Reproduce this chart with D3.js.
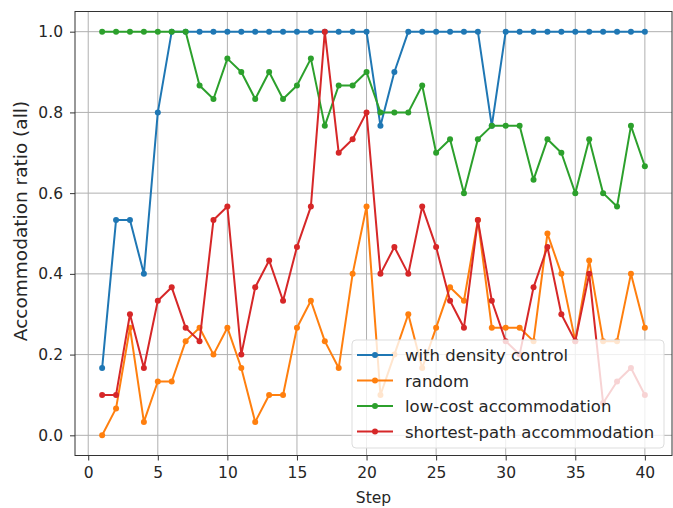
<!DOCTYPE html>
<html><head><meta charset="utf-8">
<script src="https://cdn.jsdelivr.net/npm/d3@7"></script>
<style>body{margin:0;background:#fff}svg{display:block}text{font-family:"DejaVu Sans",sans-serif}</style>
</head><body><svg id="c" width="673" height="508"></svg>
<script>
const steps = d3.range(1, 41);
const seriesNames = ["with density control", "random", "low-cost accommodation", "shortest-path accommodation"];
const colors = ["#1f77b4", "#ff7f0e", "#2ca02c", "#d62728"];
const densityControl = [0.1667,0.5333,0.5333,0.4,0.8,1,1,1,1,1,1,1,1,1,1,1,1,1,1,1,0.7667,0.9,1,1,1,1,1,1,0.7667,1,1,1,1,1,1,1,1,1,1,1];
const randomVals = [0,0.0667,0.2667,0.0333,0.1333,0.1333,0.2333,0.2667,0.2,0.2667,0.1667,0.0333,0.1,0.1,0.2667,0.3333,0.2333,0.1667,0.4,0.5667,0.1,0.2,0.3,0.1667,0.2667,0.3667,0.3333,0.5333,0.2667,0.2667,0.2667,0.2333,0.5,0.4,0.2333,0.4333,0.2333,0.2333,0.4,0.2667];
const lowCost = [1,1,1,1,1,1,1,0.8667,0.8333,0.9333,0.9,0.8333,0.9,0.8333,0.8667,0.9333,0.7667,0.8667,0.8667,0.9,0.8,0.8,0.8,0.8667,0.7,0.7333,0.6,0.7333,0.7667,0.7667,0.7667,0.6333,0.7333,0.7,0.6,0.7333,0.6,0.5667,0.7667,0.6667];
const shortestPath = [0.1,0.1,0.3,0.1667,0.3333,0.3667,0.2667,0.2333,0.5333,0.5667,0.2,0.3667,0.4333,0.3333,0.4667,0.5667,1,0.7,0.7333,0.8,0.4,0.4667,0.4,0.5667,0.4667,0.3333,0.2667,0.5333,0.3333,0.2333,0.2,0.3667,0.4667,0.3,0.2333,0.4,0.08,0.1333,0.1667,0.1];
const xTicks = [0,5,10,15,20,25,30,35,40];
const yTicks = [0,0.2,0.4,0.6,0.8,1.0];
const series = [densityControl, randomVals, lowCost, shortestPath];

const svg = d3.select("#c");
const L = 75, R = 672, T = 11.5, B = 455.5;
const x = d3.scaleLinear().domain([-0.95, 41.95]).range([L, R]);
const y = d3.scaleLinear().domain([-0.05, 1.05]).range([B, T]);
const FS = 15.5, LFS = 16.5;

// grid
const g = svg.append("g");
g.selectAll(".gx").data(xTicks).enter().append("line")
  .attr("x1", d => x(d)).attr("x2", d => x(d)).attr("y1", T).attr("y2", B)
  .attr("stroke", "#b0b0b0").attr("stroke-width", 1);
g.selectAll(".gy").data(yTicks).enter().append("line")
  .attr("y1", d => y(d)).attr("y2", d => y(d)).attr("x1", L).attr("x2", R)
  .attr("stroke", "#b0b0b0").attr("stroke-width", 1);

// lines
const line = d3.line().x((d, i) => x(steps[i])).y(d => y(d));
series.forEach((s, k) => {
  const sg = svg.append("g");
  sg.append("path").datum(s).attr("d", line).attr("fill", "none")
    .attr("stroke", colors[k]).attr("stroke-width", 2).attr("stroke-linejoin", "round");
  sg.selectAll("circle").data(s).enter().append("circle")
    .attr("cx", (d, i) => x(steps[i])).attr("cy", d => y(d)).attr("r", 3).attr("fill", colors[k]);
});

// axes
const xa = svg.append("g").attr("transform", `translate(0,${B})`)
  .call(d3.axisBottom(x).tickValues(xTicks).tickSize(5).tickPadding(6).tickFormat(d3.format("d")));
const ya = svg.append("g").attr("transform", `translate(${L},0)`)
  .call(d3.axisLeft(y).tickValues(yTicks).tickSize(5).tickPadding(7).tickFormat(d3.format(".1f")));
[xa, ya].forEach(a => {
  a.select(".domain").remove();
  a.selectAll("text").attr("font-size", FS).attr("fill", "#262626").attr("font-family", "DejaVu Sans");
  a.selectAll("line").attr("stroke", "#333");
});
svg.append("rect").attr("x", L).attr("y", T).attr("width", R - L).attr("height", B - T)
  .attr("fill", "none").attr("stroke", "#333").attr("stroke-width", 1);

svg.append("text").attr("x", (L + R) / 2).attr("y", 503).attr("text-anchor", "middle")
  .attr("font-size", FS).attr("fill", "#262626").text("Step");
svg.append("text").attr("transform", `translate(27,221) rotate(-90)`).attr("text-anchor", "middle")
  .attr("font-size", 18.5).attr("fill", "#262626").text("Accommodation ratio (all)");

// legend
const lg = svg.append("g");
lg.append("rect").attr("x", 352).attr("y", 340).attr("width", 312).attr("height", 108).attr("rx", 4)
  .attr("fill", "#fff").attr("fill-opacity", 0.8).attr("stroke", "#ddd");
seriesNames.forEach((n, k) => {
  const yy = 355 + k * 25.5;
  lg.append("line").attr("x1", 357).attr("x2", 393).attr("y1", yy).attr("y2", yy).attr("stroke", colors[k]).attr("stroke-width", 2);
  lg.append("circle").attr("cx", 375).attr("cy", yy).attr("r", 3).attr("fill", colors[k]);
  lg.append("text").attr("x", 405).attr("y", yy + 6).attr("font-size", LFS).attr("fill", "#262626").text(n);
});
</script></body></html>
